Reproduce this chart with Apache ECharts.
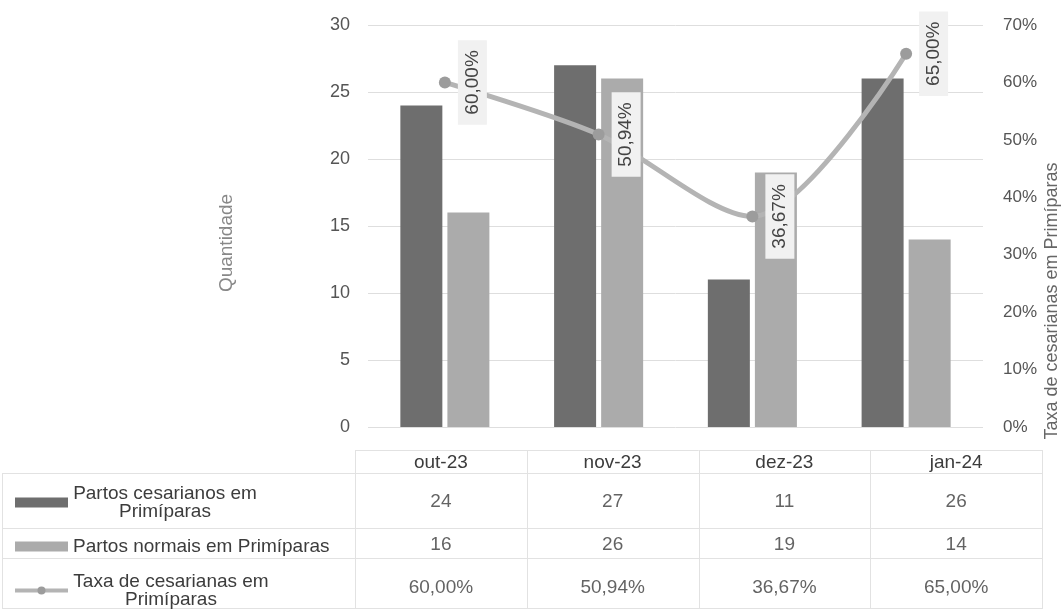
<!DOCTYPE html>
<html>
<head>
<meta charset="utf-8">
<script src="https://cdn.jsdelivr.net/npm/echarts@6/dist/echarts.min.js"></script>
<style>
  html, body { margin: 0; padding: 0; background: #ffffff; }
  #chart { width: 1061px; height: 613px; }
</style>
</head>
<body>
<div id="chart"></div>
<script>
// ---- data ----
const categories = ['out-23', 'nov-23', 'dez-23', 'jan-24'];
const cesareanBirths = [24, 27, 11, 26];
const normalBirths = [16, 26, 19, 14];
const cesareanRate = [60.00, 50.94, 36.67, 65.00];
const seriesNames = [
  'Partos cesarianos em Primíparas',
  'Partos normais em Primíparas',
  'Taxa de cesarianas em Primíparas'
];
const legendLines = [
  ['Partos cesarianos em', 'Primíparas'],
  ['Partos normais em Primíparas'],
  ['Taxa de cesarianas em', 'Primíparas']
];
const leftAxisName = 'Quantidade';
const rightAxisName = 'Taxa de cesarianas em Primíparas';

// ---- helpers / layout ----
const fmtPct = v => v.toFixed(2).replace('.', ',') + '%';
const FONT = '"Liberation Sans", Arial, sans-serif';
const W = 1061, H = 613;
const tableLeft = 355, tableRight = 1042;
const lineColor = '#e2e2e2';
const barDark = '#6e6e6e', barLight = '#ababab', rateLine = '#b4b4b4', rateDot = '#9c9c9c';

const chart = echarts.init(document.getElementById('chart'), null, { renderer: 'canvas' });

// table decorative borders
const graphics = [];
const colW = (tableRight - tableLeft) / categories.length;
function hline(x1, x2, y) {
  graphics.push({ type: 'line', silent: true, shape: { x1, y1: y, x2, y2: y }, style: { stroke: lineColor, lineWidth: 1 } });
}
function vline(x, y1, y2) {
  graphics.push({ type: 'line', silent: true, shape: { x1: x, y1, x2: x, y2 }, style: { stroke: lineColor, lineWidth: 1 } });
}
hline(tableLeft, tableRight, 450.5);
[473.5, 528.5, 558.5, 608.5].forEach(y => hline(2, tableRight, y));
for (let i = 0; i <= categories.length; i++) vline(Math.round(tableLeft + i * colW) + 0.5, 450, 609);
vline(2.5, 473, 609);

// table cell series (grid 1)
const tableRows = [
  cesareanBirths.map(v => String(v)),
  normalBirths.map(v => String(v)),
  cesareanRate.map(fmtPct)
];
const tableData = [];
tableRows.forEach((row, r) => row.forEach((txt, c) => tableData.push({ value: [c, r], txt })));

const legendRich = {
  r0: { width: 184, align: 'center', fontSize: 19, lineHeight: 18, fontFamily: FONT, color: '#3c3c3c' },
  r1: { fontSize: 19, lineHeight: 18, fontFamily: FONT, color: '#3c3c3c' },
  r2: { width: 196, align: 'center', fontSize: 19, lineHeight: 18, fontFamily: FONT, color: '#3c3c3c' }
};

const option = {
  backgroundColor: '#ffffff',
  animation: false,
  textStyle: { fontFamily: FONT },
  graphic: graphics,
  legend: {
    data: [
      { name: seriesNames[0], icon: 'rect' },
      { name: seriesNames[1], icon: 'rect' },
      { name: seriesNames[2], lineStyle: { width: 4, color: rateLine }, itemStyle: { color: rateDot } }
    ],
    orient: 'vertical',
    left: 13,
    top: 484,
    padding: 0,
    itemGap: 16,
    itemWidth: 53,
    itemHeight: 10,
    selectedMode: false,
    formatter: name => {
      const i = seriesNames.indexOf(name);
      return legendLines[i].map(l => '{r' + i + '|' + l + '}').join('\n');
    },
    textStyle: { rich: legendRich, fontSize: 19, color: '#3c3c3c' }
  },
  grid: [
    { left: 368, right: W - 983, top: 25, bottom: H - 427, outerBoundsMode: 'none', containLabel: false },
    { left: tableLeft, right: W - tableRight, top: 480, bottom: 4, outerBoundsMode: 'none', containLabel: false }
  ],
  xAxis: [
    {
      type: 'category', gridIndex: 0, data: categories,
      axisLine: { show: false }, axisTick: { show: false }, axisLabel: { show: false }
    },
    {
      type: 'category', gridIndex: 1, data: categories, position: 'top',
      axisLine: { show: false }, axisTick: { show: false },
      axisLabel: { fontSize: 19, color: '#3c3c3c', margin: 8, fontFamily: FONT }
    }
  ],
  yAxis: [
    {
      type: 'value', gridIndex: 0, min: 0, max: 30, interval: 5,
      name: leftAxisName, nameLocation: 'middle', nameGap: 132, nameRotate: 90, nameMoveOverlap: false,
      nameTextStyle: { fontSize: 19, color: '#888', fontFamily: FONT, padding: [0, 34, 0, 0] },
      axisLine: { show: false }, axisTick: { show: false },
      axisLabel: { fontSize: 18, color: '#555', margin: 18, fontFamily: FONT },
      splitLine: { lineStyle: { color: '#dedede', width: 1 } }
    },
    {
      type: 'value', gridIndex: 0, min: 0, max: 70, interval: 10, position: 'right',
      name: rightAxisName, nameLocation: 'middle', nameGap: 60, nameRotate: 90, nameMoveOverlap: false,
      nameTextStyle: { fontSize: 18, color: '#666', fontFamily: FONT, padding: [0, 150, 0, 0] },
      axisLine: { show: false }, axisTick: { show: false },
      axisLabel: { fontSize: 17, color: '#555', margin: 20, fontFamily: FONT, formatter: '{value}%' },
      splitLine: { show: false }
    },
    {
      type: 'category', gridIndex: 1, inverse: true, data: ['r0', 'r1', 'r2'],
      axisLine: { show: false }, axisTick: { show: false }, axisLabel: { show: false }, splitLine: { show: false }
    }
  ],
  series: [
    {
      name: seriesNames[0], type: 'bar', xAxisIndex: 0, yAxisIndex: 0,
      data: cesareanBirths, barWidth: 42, barGap: '12%',
      itemStyle: { color: barDark }
    },
    {
      name: seriesNames[1], type: 'bar', xAxisIndex: 0, yAxisIndex: 0,
      data: normalBirths, barWidth: 42, barGap: '12%',
      itemStyle: { color: barLight }
    },
    {
      name: seriesNames[2], type: 'line', xAxisIndex: 0, yAxisIndex: 1,
      data: cesareanRate, smooth: 0.3,
      symbol: 'circle', symbolSize: 12,
      lineStyle: { color: rateLine, width: 5 },
      itemStyle: { color: rateDot },
      label: {
        show: true, formatter: p => fmtPct(p.value),
        position: 'right', distance: 7, rotate: 90,
        align: 'center', verticalAlign: 'top',
        fontSize: 19, color: '#444', fontFamily: FONT,
        backgroundColor: '#f1f1f1', padding: [5, 10]
      },
      z: 5
    },
    {
      name: 'table', type: 'scatter', xAxisIndex: 1, yAxisIndex: 2,
      data: tableData, symbolSize: 0, silent: true,
      label: {
        show: true, position: 'inside',
        formatter: p => p.data.txt,
        fontSize: 19, color: '#3c3c3c', fontFamily: FONT
      }
    }
  ]
};
chart.setOption(option);
</script>
</body>
</html>
